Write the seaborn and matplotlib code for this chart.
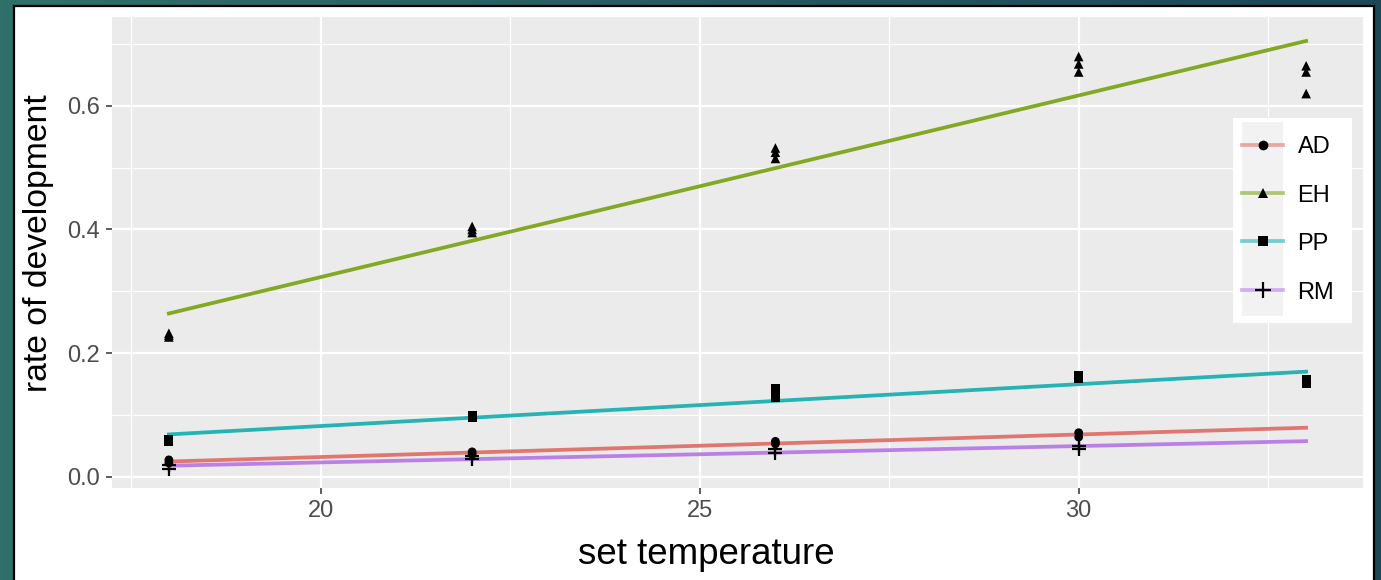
import numpy as np
import pandas as pd
import matplotlib
matplotlib.use("Agg")
import matplotlib.pyplot as plt
from matplotlib.colors import LinearSegmentedColormap
from matplotlib.patches import Rectangle
from matplotlib.lines import Line2D
from matplotlib.legend_handler import HandlerTuple, HandlerLine2D
import seaborn as sns

# ---- data: development rate per species at each set temperature ----
species = ["AD", "EH", "PP", "RM"]

ad_temp = [18, 18, 22, 22, 26, 26, 30, 30]
ad_rate = [0.022, 0.027, 0.036, 0.040, 0.053, 0.057, 0.064, 0.071]

eh_temp = [18, 18, 18, 22, 22, 22, 26, 26, 26, 30, 30, 30, 33, 33, 33]
eh_rate = [0.226, 0.229, 0.232, 0.395, 0.400, 0.405, 0.515, 0.525, 0.532,
           0.655, 0.668, 0.680, 0.620, 0.655, 0.665]

pp_temp = [18, 18, 22, 22, 26, 26, 30, 30, 33, 33]
pp_rate = [0.057, 0.061, 0.095, 0.099, 0.128, 0.142, 0.158, 0.163, 0.150, 0.158]

rm_temp = [18, 18, 22, 22, 26, 26, 30, 30]
rm_rate = [0.012, 0.018, 0.028, 0.034, 0.038, 0.044, 0.044, 0.050]

temp_range = [18, 33]

x_ticks = [20, 25, 30]
y_ticks = [0.0, 0.2, 0.4, 0.6]

palette = {"AD": "#E0766F", "EH": "#82A824", "PP": "#25B3B3", "RM": "#BA80E8"}
markers = {"AD": "o", "EH": "^", "PP": "s", "RM": "+"}
marker_size = {"AD": 40, "EH": 48, "PP": 40, "RM": 110}

temps = {"AD": ad_temp, "EH": eh_temp, "PP": pp_temp, "RM": rm_temp}
rates = {"AD": ad_rate, "EH": eh_rate, "PP": pp_rate, "RM": rm_rate}

points = pd.concat(
    [pd.DataFrame({"species": s, "temperature": temps[s], "rate": rates[s]})
     for s in species],
    ignore_index=True,
)

# linear fit per species, evaluated across the full temperature range
fit_rows = []
for s in species:
    slope, intercept = np.polyfit(temps[s], rates[s], 1)
    for t in temp_range:
        fit_rows.append({"species": s, "temperature": t,
                         "rate": intercept + slope * t})
fits = pd.DataFrame(fit_rows)

# ---- figure ----
W, H, DPI = 1381, 580, 100
fig = plt.figure(figsize=(W / DPI, H / DPI), dpi=DPI)
plt.rcParams["font.family"] = ["Liberation Sans", "DejaVu Sans"]

# framed backdrop
bg = fig.add_axes([0, 0, 1, 1], zorder=-10)
grad = np.linspace(0, 1, 256).reshape(1, -1)
cmap_bg = LinearSegmentedColormap.from_list("frame", ["#30706A", "#1B4757"])
bg.imshow(grad, extent=[0, 1, 0, 1], aspect="auto", cmap=cmap_bg)
bg.add_patch(Rectangle((14 / W, -0.05), (1374 - 14) / W, (574 + 29) / H,
                       facecolor="white", edgecolor="black", linewidth=1.6))
bg.set_xlim(0, 1)
bg.set_ylim(0, 1)
bg.axis("off")

left, right, top, bottom = 112, 1363, 17, 488
pw, ph = right - left, bottom - top
ax = fig.add_axes([left / W, 1 - bottom / H, pw / W, ph / H])
ax.set_facecolor("#EBEBEB")


def ax_frac(px, py):
    """Pixel position in the figure -> axes fraction."""
    return (px - left) / pw, 1 - (py - top) / ph


sns.lineplot(data=fits, x="temperature", y="rate", hue="species",
             palette=palette, linewidth=2.7, legend=False, ax=ax, zorder=3)

for s in species:
    sub = points[points["species"] == s]
    kw = dict(color="black", marker=markers[s], s=marker_size[s], ax=ax,
              legend=False, zorder=4)
    if markers[s] == "+":
        kw.update(linewidth=1.6)
    else:
        kw.update(edgecolor="none")
    sns.scatterplot(data=sub, x="temperature", y="rate", **kw)

ax.set_xlim(17.25, 33.75)
ax.set_ylim(-0.0185, 0.744)
ax.set_xticks(x_ticks)
ax.set_yticks(y_ticks)
ax.set_xticks([17.5, 22.5, 27.5, 32.5], minor=True)
ax.set_yticks([0.1, 0.3, 0.5, 0.7], minor=True)
ax.set_yticklabels([f"{v:.1f}" for v in y_ticks])
ax.grid(which="major", color="white", linewidth=1.6)
ax.grid(which="minor", color="white", linewidth=0.8)
ax.set_axisbelow(True)
for sp in ax.spines.values():
    sp.set_visible(False)
ax.tick_params(axis="both", which="major", length=4.5, width=1.1,
               color="#333333", labelsize=17, labelcolor="#4D4D4D", pad=4)
ax.tick_params(axis="both", which="minor", length=0)

ax.set_xlabel("set temperature", fontsize=26.5, color="black")
ax.set_ylabel("rate of development", fontsize=24.3, color="black")
ax.xaxis.set_label_coords(0.475, -0.104)
ax.yaxis.set_label_coords(-0.0466, 0.52)

# legend box (white) with grey key backgrounds, coloured line, black marker
x0, y0 = ax_frac(1233, 323)
x1, y1 = ax_frac(1352, 118)
ax.add_patch(Rectangle((x0, y0), x1 - x0, y1 - y0, transform=ax.transAxes,
                       facecolor="white", edgecolor="none", zorder=4.5))


class CenteredLine(HandlerLine2D):
    """Line handler that sits the line/marker level with the label text."""
    def __init__(self, shift=10.0, **kw):
        super().__init__(**kw)
        self.shift = shift

    def create_artists(self, legend, orig_handle, xdescent, ydescent,
                       width, height, fontsize, trans):
        return super().create_artists(legend, orig_handle, xdescent,
                                      ydescent + self.shift, width, height,
                                      fontsize, trans)


handles = []
for s in species:
    key_bg = Rectangle((0, 0), 1, 1, facecolor="#F2F2F2", edgecolor="none")
    ln = Line2D([], [], color=palette[s], linewidth=2.7, alpha=0.6)
    mk = Line2D([], [], color="black", marker=markers[s], linestyle="none",
                markersize=7 if markers[s] != "+" else 11,
                markeredgewidth=1.6 if markers[s] == "+" else 0)
    handles.append((key_bg, ln, mk))

leg = ax.legend(handles, species,
                handler_map={tuple: HandlerTuple(ndivide=1, pad=0),
                             Line2D: CenteredLine()},
                loc="upper left", bbox_to_anchor=ax_frac(1242, 122),
                fontsize=17, frameon=False, handlelength=1.75, handleheight=2.78,
                labelspacing=0.0, handletextpad=0.6, borderpad=0.0,
                borderaxespad=0)
leg.set_zorder(5)
for t in leg.get_texts():
    t.set_color("black")

fig.savefig("out.png", dpi=DPI)
